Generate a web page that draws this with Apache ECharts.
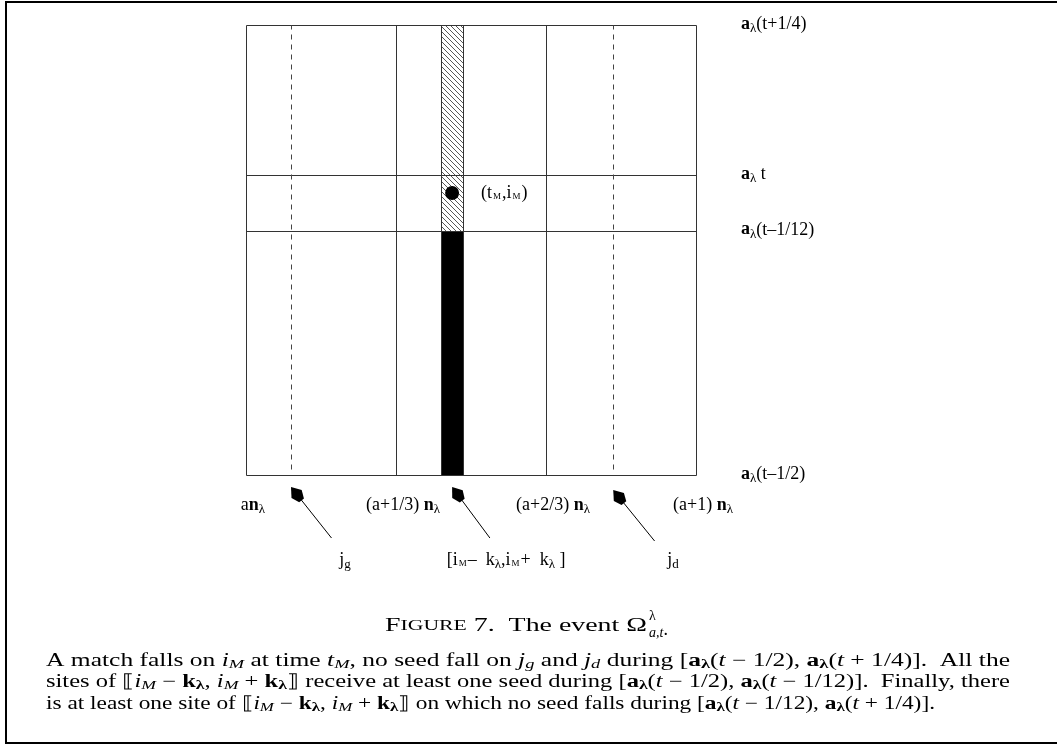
<!DOCTYPE html>
<html><head><meta charset="utf-8">
<script src="https://cdn.jsdelivr.net/npm/echarts@6/dist/echarts.min.js"></script>
<style>html,body{margin:0;padding:0;background:#fff}#c{width:1057px;height:745px}</style>
</head><body><div id="c"></div>
<script>
// ---------------- data ----------------
const columnBounds = [0, 1/3, 2/3, 1];
const columnLabels = ['{m|a}{b|n}{s|λ}', '{m|(a+1/3) }{b|n}{s|λ}', '{m|(a+2/3) }{b|n}{s|λ}', '{m|(a+1) }{b|n}{s|λ}'];
const timeLevels = [-0.5, -0.093, 0, 0.25];
const timeLabels = ['{b|a}{s|λ}{m|(t–1/2)}', '{b|a}{s|λ}{m|(t–1/12)}', '{b|a}{s|λ}{m| t}', '{b|a}{s|λ}{m|(t+1/4)}'];
const dashedCols = [0.1, 0.816];
const dashedSpan = [-0.49, 0.25];
const hatchedCell = [0.433, 0.482, -0.093, 0.25];
const blackCell = [0.433, 0.482, -0.5, -0.093];
const matchPoint = [0.458, -0.03];
const matchLabel = '{m|(t}{k|M}{m|,i}{k|M}{m|)}';
const arrowTips = [[0.1, -0.52], [0.458, -0.52], [0.816, -0.525]];
const arrowTails = [[0.19, -0.605], [0.542, -0.605], [0.908, -0.61]];
const arrowLabelPos = [[0.22, -0.643], [0.578, -0.643], [0.949, -0.643]];
const arrowLabels = ['{m|j}{s|g}', '{m|[i}{k|M}{m|–  k}{s|λ}{m|,i}{k|M}{m|+  k}{s|λ}{m| ]}', '{m|j}{s|d}'];
const captionTitle = '{c|F}{cs|IGURE}{c| 7.  The event Ω}';
const captionLines = [
  '{r|A match falls on }{i|i}{is|M}{r| at time }{i|t}{is|M}{r|, no seed fall on }{i|j}{is|g}{r| and }{i|j}{is|d}{r| during [}{b|a}{bs|λ}{r|(}{i|t}{r| − 1/2), }{b|a}{bs|λ}{r|(}{i|t}{r| + 1/4)].  All the}',
  '{r|sites of ⟦}{i|i}{is|M}{r| − }{b|k}{bs|λ}{r|, }{i|i}{is|M}{r| + }{b|k}{bs|λ}{r|⟧ receive at least one seed during [}{b|a}{bs|λ}{r|(}{i|t}{r| − 1/2), }{b|a}{bs|λ}{r|(}{i|t}{r| − 1/12)].  Finally, there}',
  '{r|is at least one site of ⟦}{i|i}{is|M}{r| − }{b|k}{bs|λ}{r|, }{i|i}{is|M}{r| + }{b|k}{bs|λ}{r|⟧ on which no seed falls during [}{b|a}{bs|λ}{r|(}{i|t}{r| − 1/12), }{b|a}{bs|λ}{r|(}{i|t}{r| + 1/4)].}'
];

// ---------------- derived marks ----------------
const segments = [];
columnBounds.forEach(x => segments.push([x, timeLevels[0], x, timeLevels[3], 0]));
timeLevels.forEach(y => segments.push([columnBounds[0], y, columnBounds[3], y, 0]));
dashedCols.forEach(x => segments.push([x, dashedSpan[0], x, dashedSpan[1], 1]));
const cells = [hatchedCell.concat([1]), blackCell.concat([0])];
const arrows = arrowTips.map((t, i) => [t[0], t[1], arrowTails[i][0], arrowTails[i][1]]);

const FONT = '"Liberation Serif", "Times New Roman", serif';
const LF = 18;
const richDiag = {
  m: {fontFamily: FONT, fontSize: LF, color: '#000', verticalAlign: 'top'},
  b: {fontFamily: FONT, fontSize: LF, fontWeight: 'bold', color: '#000', verticalAlign: 'top'},
  s: {fontFamily: FONT, fontSize: 13, color: '#000', verticalAlign: 'top', padding: [7, 0, 0, 0]},
  k: {fontFamily: FONT, fontSize: 9, color: '#000', verticalAlign: 'top', padding: [8, 1, 0, 1]}
};
const CF = 18;
const richPara = {
  r: {fontFamily: FONT, fontSize: CF, fill: '#000', verticalAlign: 'top'},
  i: {fontFamily: FONT, fontSize: CF, fontStyle: 'italic', fill: '#000', verticalAlign: 'top'},
  b: {fontFamily: FONT, fontSize: CF, fontWeight: 'bold', fill: '#000', verticalAlign: 'top'},
  is: {fontFamily: FONT, fontSize: 13, fontStyle: 'italic', fill: '#000', verticalAlign: 'top', padding: [6, 0, 0, 0]},
  bs: {fontFamily: FONT, fontSize: 13, fontWeight: 'bold', fill: '#000', verticalAlign: 'top', padding: [6, 0, 0, 0]}
};
const richTitle = {
  c: {fontFamily: FONT, fontSize: 18, fill: '#000'},
  cs: {fontFamily: FONT, fontSize: 14, fill: '#000'}
};

function measure(text, rich) {
  const t = new echarts.graphic.Text({style: {text: text, rich: rich}});
  return t.getBoundingRect().width;
}
const paraLeft = 46, paraRight = 1010, lastLineRight = 935;
const w = captionLines.map(t => measure(t, richPara));
const paraScale = [(paraRight - paraLeft) / w[0], (paraRight - paraLeft) / w[1], (lastLineRight - paraLeft) / w[2]];
const titleScale = 262 / measure(captionTitle, richTitle);

// hatch pattern
const pc = document.createElement('canvas');
pc.width = 5; pc.height = 5;
const pctx = pc.getContext('2d');
pctx.strokeStyle = '#444'; pctx.lineWidth = 0.9;
pctx.beginPath();
pctx.moveTo(-1, -1); pctx.lineTo(6, 6);
pctx.moveTo(-1, 4); pctx.lineTo(1, 6);
pctx.moveTo(4, -1); pctx.lineTo(6, 1);
pctx.stroke();

function pick(list, labels, v) {
  let best = 0;
  list.forEach((x, i) => { if (Math.abs(x - v) < Math.abs(list[best] - v)) best = i; });
  return labels[best];
}
const crisp = v => Math.round(v) + 0.5;

const chart = echarts.init(document.getElementById('c'));
chart.setOption({
  animation: false,
  backgroundColor: '#fff',
  grid: {left: 246, top: 25, width: 450, height: 450},
  xAxis: {
    type: 'value', min: 0, max: 1, position: 'bottom',
    axisLine: {show: false}, axisTick: {show: false}, splitLine: {show: false},
    axisLabel: {
      customValues: columnBounds, margin: 21, padding: [0, 0, 0, 14],
      formatter: v => pick(columnBounds, columnLabels, v), rich: richDiag
    }
  },
  yAxis: {
    type: 'value', min: -0.5, max: 0.25, position: 'right',
    axisLine: {show: false}, axisTick: {show: false}, splitLine: {show: false},
    axisLabel: {
      customValues: timeLevels, margin: 45,
      formatter: v => pick(timeLevels, timeLabels, v), rich: richDiag
    }
  },
  series: [
    {
      type: 'custom', name: 'cells', data: cells, clip: false, z: 2,
      renderItem: (p, api) => {
        const a = api.coord([api.value(0), api.value(3)]);
        const b = api.coord([api.value(1), api.value(2)]);
        const hatched = api.value(4) === 1;
        return {
          type: 'rect',
          shape: {x: crisp(a[0]), y: crisp(a[1]), width: Math.round(b[0] - a[0]), height: Math.round(b[1] - a[1])},
          style: {fill: hatched ? {image: pc, repeat: 'repeat'} : '#000', stroke: '#333', lineWidth: 1}
        };
      }
    },
    {
      type: 'custom', name: 'lines', data: segments, clip: false, z: 3,
      renderItem: (p, api) => {
        const a = api.coord([api.value(0), api.value(1)]);
        const b = api.coord([api.value(2), api.value(3)]);
        const dashed = api.value(4) === 1;
        return {
          type: 'line',
          shape: {x1: crisp(a[0]), y1: crisp(a[1]), x2: crisp(b[0]), y2: crisp(b[1])},
          style: {stroke: dashed ? '#444' : '#333', lineWidth: 1, lineDash: dashed ? [5, 5] : null}
        };
      }
    },
    {
      type: 'custom', name: 'arrows', data: arrows, clip: false, z: 3,
      renderItem: (p, api) => {
        const tip = api.coord([api.value(0), api.value(1)]);
        const tail = api.coord([api.value(2), api.value(3)]);
        const dx = tail[0] - tip[0], dy = tail[1] - tip[1];
        const L = Math.hypot(dx, dy);
        const ux = dx / L, uy = dy / L, vx = -uy, vy = ux;
        const P = (a, b) => [tip[0] + ux * a + vx * b, tip[1] + uy * a + vy * b];
        return {
          type: 'group',
          children: [
            {type: 'line', shape: {x1: P(14, 0)[0], y1: P(14, 0)[1], x2: tail[0], y2: tail[1]}, style: {stroke: '#000', lineWidth: 1}},
            {type: 'polygon', shape: {points: [P(0, 0), P(9, 6.5), P(17, 3), P(17, -3), P(9, -6.5)]}, style: {fill: '#000'}}
          ]
        };
      }
    },
    {
      type: 'scatter', name: 'match', data: [matchPoint], symbolSize: 14, z: 5,
      itemStyle: {color: '#000', opacity: 1},
      label: {show: true, position: 'right', distance: 22, formatter: matchLabel, rich: richDiag}
    },
    {
      type: 'scatter', name: 'arrowLabels', clip: false, z: 5,
      data: arrowLabelPos.map((p, i) => ({value: p, label: {formatter: arrowLabels[i]}})),
      symbolSize: 1, itemStyle: {color: 'rgba(0,0,0,0)', opacity: 1},
      label: {show: true, position: 'inside', color: '#000', rich: richDiag}
    }
  ],
  graphic: [
    {type: 'rect', shape: {x: 6, y: 2, width: 1060, height: 741}, style: {fill: 'none', stroke: '#000', lineWidth: 2}, silent: true},
    {type: 'text', x: 647, y: 626, scaleX: titleScale, style: {
      text: captionTitle, textAlign: 'right', textVerticalAlign: 'middle', rich: richTitle
    }},
    {type: 'text', x: 649, y: 616, style: {text: 'λ', font: '14px ' + FONT, fill: '#000', textVerticalAlign: 'middle'}},
    {type: 'text', x: 649, y: 633, style: {text: '{i|a,t}{r|.}', textVerticalAlign: 'middle',
      rich: {i: {fontFamily: FONT, fontStyle: 'italic', fontSize: 14, fill: '#000'}, r: {fontFamily: FONT, fontSize: 18, fill: '#000', padding: [0,0,6,0]}}}},
    ...captionLines.map((t, i) => ({
      type: 'text', x: paraLeft, y: 652 + i * 21.5, scaleX: paraScale[i],
      style: {text: t, textVerticalAlign: 'top', rich: richPara}
    }))
  ]
});
</script>
</body></html>
